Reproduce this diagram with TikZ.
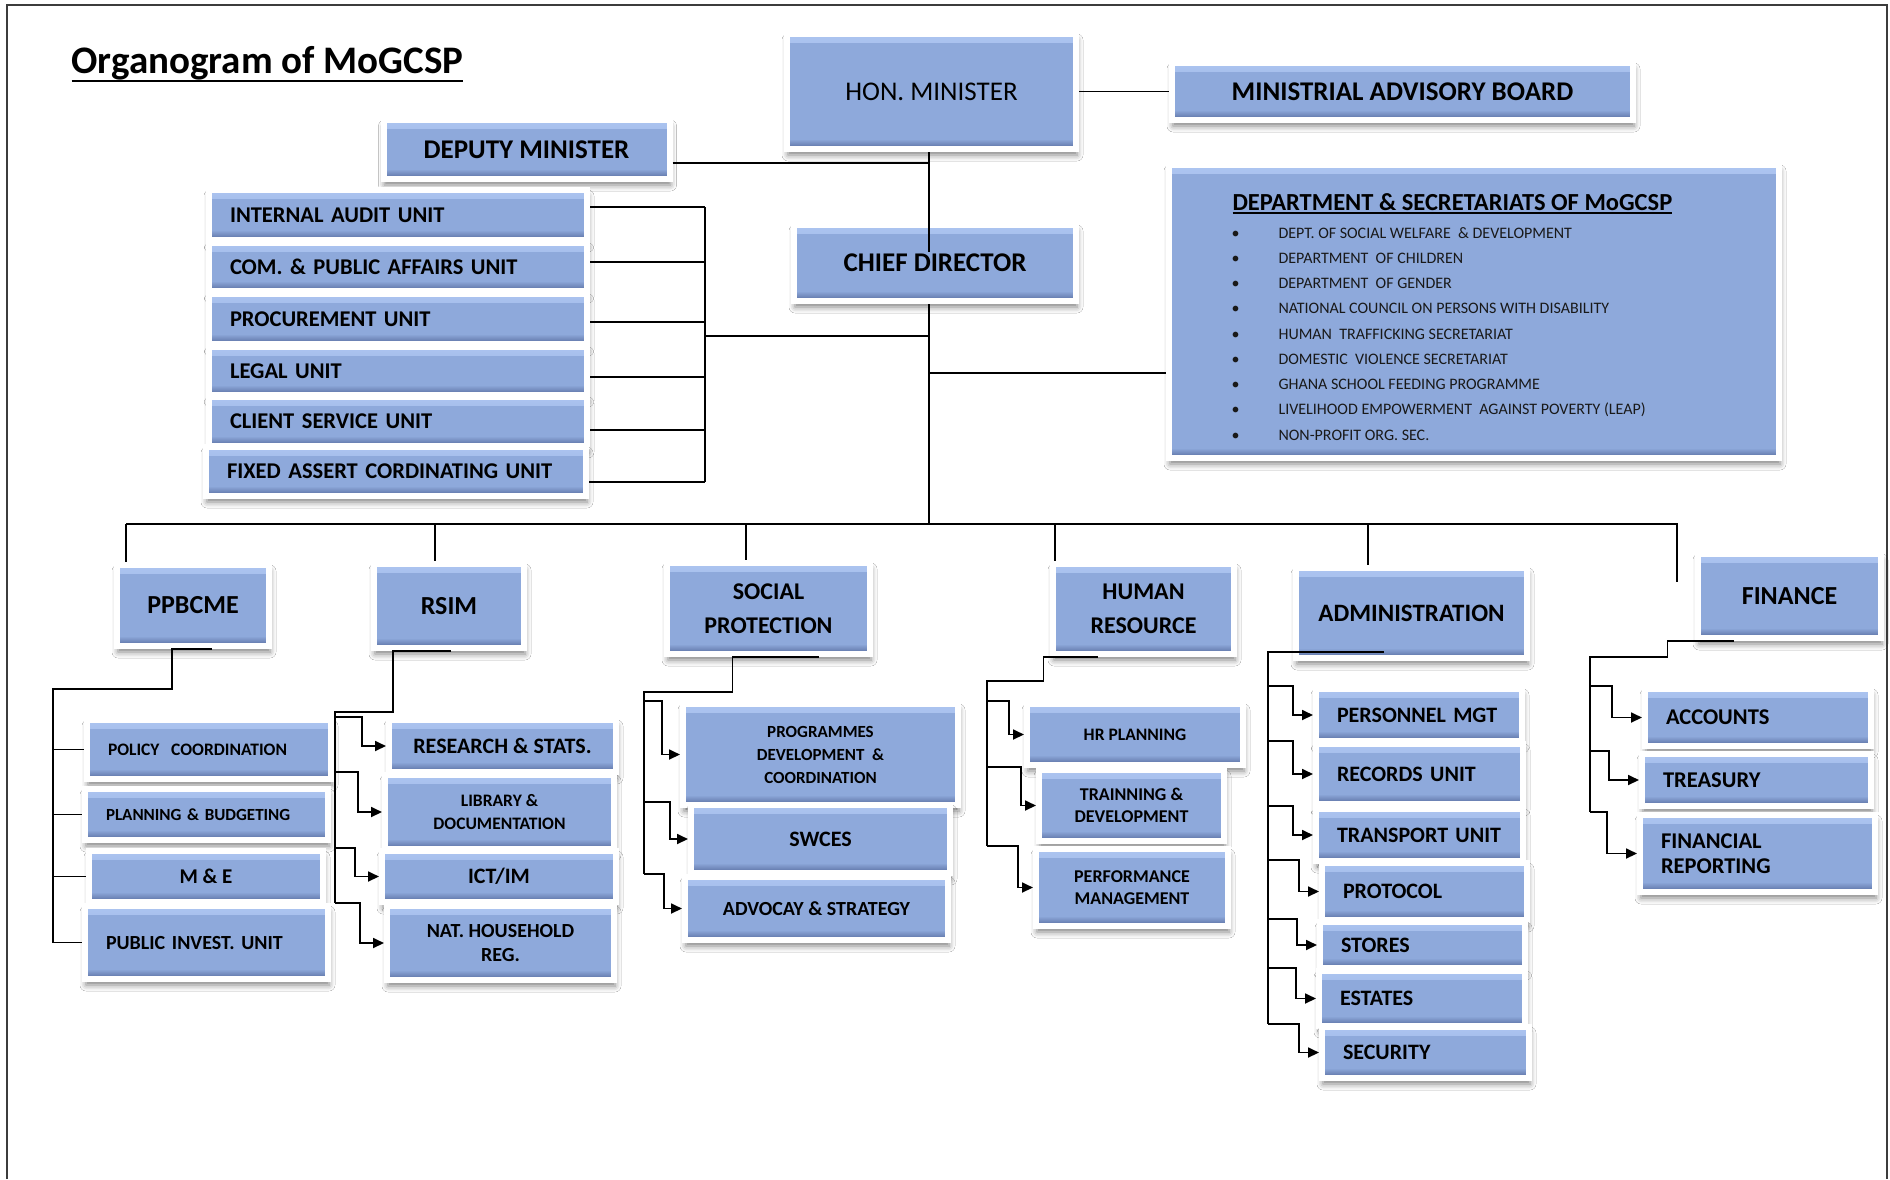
\documentclass[tikz,border=0pt]{standalone}
\usepackage{fontspec}
\setmainfont{Carlito}
\usepackage{tikz}
\usetikzlibrary{arrows.meta}
\usetikzlibrary{shadows.blur}
\definecolor{boxblue}{RGB}{142,169,219}
\definecolor{boxtop}{RGB}{172,196,240}
\definecolor{boxbot}{RGB}{86,106,156}
\definecolor{framegray}{RGB}{60,60,60}
\newcommand{\ulbox}[3]{\vtop{\hbox{#1}\kern#2\hrule height #3}}
\tikzstyle{box}=[rectangle,draw=white,line width=6pt,fill=boxblue,inner sep=0pt,text=black,align=center,
  blur shadow={shadow xshift=1pt,shadow yshift=-6pt,shadow blur radius=6pt,shadow opacity=50},
  path picture={
    \shade[top color=boxtop,bottom color=boxblue] (path picture bounding box.north west) rectangle ([yshift=-8pt]path picture bounding box.north east);
    \shade[top color=boxblue,bottom color=boxbot] ([yshift=10pt]path picture bounding box.south west) rectangle (path picture bounding box.south east);
  }]
\tikzstyle{lbox}=[box,align=left,inner xsep=21pt]
\tikzstyle{link}=[line width=1.8pt,black]
\tikzstyle{arr}=[link,-{Triangle[length=11pt,width=10pt]}]
\tikzset{fnt/.style 2 args={font=\fontsize{#1}{#2}\selectfont\bfseries},
  fntr/.style 2 args={font=\fontsize{#1}{#2}\selectfont}}

\begin{document}
\begin{tikzpicture}[x=1pt,y=-1pt]

\fill[white] (0,0) rectangle (1890,1179);
\useasboundingbox (0,0) rectangle (1890,1179);
\draw[framegray,line width=2.5pt] (7,1179) -- (7,5) -- (1887,5) -- (1887,1179);

\node[anchor=base west,fnt={39}{45}] (title) at (68,73) {\ulbox{Organogram of MoGCSP}{0pt}{2.5pt}};

% top of the chart
\node[box,fntr={27}{32},minimum width=289pt,minimum height=115pt] (hon) at (931.5,91.5) {HON. MINISTER};
\node[box,fnt={27}{32},minimum width=461pt,minimum height=57pt] (mab) at (1402.5,91.5) {MINISTRIAL ADVISORY BOARD};
\node[box,fnt={27}{32},minimum width=286pt,minimum height=59pt] (dep) at (526.5,149.5) {DEPUTY MINISTER};
\node[box,fnt={27}{32},minimum width=282pt,minimum height=76pt] (chief) at (935,263) {CHIEF DIRECTOR};

\node[box,minimum width=610pt,minimum height=293pt] (dept) at (1474,311.5) {};
\node[anchor=base west,fnt={24.5}{28}] (depttitle) at (1229,210) {\ulbox{DEPARTMENT \& SECRETARIATS OF MoGCSP}{1.5pt}{2pt}};
\foreach \i/\t in {1/DEPT. OF SOCIAL WELFARE \ \& DEVELOPMENT,2/DEPARTMENT \ OF CHILDREN,3/DEPARTMENT \ OF GENDER,
    4/NATIONAL COUNCIL ON PERSONS WITH DISABILITY,5/HUMAN \ TRAFFICKING SECRETARIAT,6/DOMESTIC \ VIOLENCE SECRETARIAT,
    7/GHANA SCHOOL FEEDING PROGRAMME,8/LIVELIHOOD EMPOWERMENT \ AGAINST POVERTY (LEAP),9/NON-PROFIT ORG. SEC.}
  \node[anchor=base west,fntr={16}{19},text=black!90] (item\i) at (1228,{238+25.25*(\i-1)}) {\makebox[47pt][l]{\textbullet}\t};

% units under the deputy minister
\node[lbox,fnt={22.5}{26},text width=336pt,minimum height=50pt] (iau) at (398,215) {INTERNAL AUDIT UNIT};
\node[lbox,fnt={22.5}{26},text width=336pt,minimum height=48pt] (com) at (398,267) {COM. \& PUBLIC AFFAIRS UNIT};
\node[lbox,fnt={22.5}{26},text width=336pt,minimum height=50pt] (proc) at (398,319) {PROCUREMENT UNIT};
\node[lbox,fnt={22.5}{26},text width=336pt,minimum height=48pt] (legal) at (398,371) {LEGAL UNIT};
\node[lbox,fnt={22.5}{26},text width=336pt,minimum height=49pt] (client) at (398,421.5) {CLIENT SERVICE UNIT};
\node[lbox,fnt={22.5}{26},text width=338pt,minimum height=49pt] (fixed) at (396,471.5) {FIXED ASSERT CORDINATING UNIT};

% directorates
\node[box,fnt={26}{30},minimum width=152pt,minimum height=81pt] (ppb) at (193,605.5) {PPBCME};
\node[box,fnt={26}{30},minimum width=150pt,minimum height=84pt] (rsim) at (449,606) {RSIM};
\node[box,fnt={24}{34},minimum width=203pt,minimum height=91pt] (soc) at (768.5,608.5) {SOCIAL\\PROTECTION};
\node[box,fnt={24}{34},minimum width=181pt,minimum height=90pt] (hum) at (1143.5,609) {HUMAN\\RESOURCE};
\node[box,fnt={25}{30},minimum width=231pt,minimum height=90pt] (adm) at (1411.5,613) {ADMINISTRATION};
\node[box,fnt={26}{30},minimum width=183pt,minimum height=84pt] (fin) at (1789.5,596) {FINANCE};

% PPBCME
\node[lbox,fnt={17.5}{21},text width=202pt,minimum height=59pt] (pol) at (209,749.5) {POLICY \ COORDINATION};
\node[lbox,fnt={17}{21},text width=201pt,minimum height=51pt] (plan) at (206.5,814.5) {PLANNING \& BUDGETING};
\node[box,fnt={21}{25},minimum width=234pt,minimum height=51pt] (me) at (206,876.5) {M \& E};
\node[lbox,fnt={20}{24},text width=201pt,minimum height=73pt] (pub) at (206.5,942.5) {PUBLIC INVEST. UNIT};

% RSIM
\node[box,fnt={22}{26},minimum width=227pt,minimum height=52pt] (rs) at (502.5,746) {RESEARCH \& STATS.};
\node[box,fnt={17.5}{23},minimum width=229pt,minimum height=74pt] (lib) at (499.5,812) {LIBRARY \&\\DOCUMENTATION};
\node[box,fnt={22}{26},minimum width=234pt,minimum height=51pt] (ict) at (499,876.5) {ICT/IM};
\node[box,fnt={20}{24},minimum width=227pt,minimum height=74pt] (nhr) at (500.5,943) {NAT. HOUSEHOLD\\REG.};

% social protection
\node[box,fnt={17}{23},minimum width=275pt,minimum height=101pt] (prog) at (820.5,754.5) {PROGRAMMES\\DEVELOPMENT \ \&\\COORDINATION};
\node[box,fnt={22}{26},minimum width=259pt,minimum height=68pt] (swc) at (820.5,839) {SWCES};
\node[box,fnt={20}{24},minimum width=263pt,minimum height=63pt] (adv) at (816.5,908.5) {ADVOCAY \& STRATEGY};

% human resource
\node[box,fnt={17.5}{22},minimum width=216pt,minimum height=61pt] (hrp) at (1135,734.5) {HR PLANNING};
\node[box,fnt={18}{22},minimum width=185pt,minimum height=71pt] (trn) at (1131.5,805.5) {TRAINNING \&\\DEVELOPMENT};
\node[box,fnt={18}{22},minimum width=192pt,minimum height=77pt] (perf) at (1132,887.5) {PERFORMANCE\\MANAGEMENT};

% administration
\node[lbox,fnt={22}{26},text width=164pt,minimum height=52pt] (pers) at (1419,715) {PERSONNEL MGT};
\node[lbox,fnt={22}{26},text width=165pt,minimum height=60pt] (rec) at (1419.5,774) {RECORDS UNIT};
\node[lbox,fnt={22}{26},text width=165pt,minimum height=52pt] (trans) at (1419.5,835) {TRANSPORT UNIT};
\node[lbox,fnt={22}{26},text width=163pt,minimum height=57pt] (prot) at (1424.5,891.5) {PROTOCOL};
\node[lbox,fnt={22}{26},text width=163pt,minimum height=46pt] (sto) at (1422.5,945) {STORES};
\node[lbox,fnt={22}{26},text width=164pt,minimum height=55pt] (est) at (1422,998.5) {ESTATES};
\node[lbox,fnt={22}{26},text width=165pt,minimum height=51pt] (sec) at (1425.5,1052.5) {SECURITY};

% finance
\node[lbox,fnt={22.5}{25},text width=184pt,minimum height=57pt] (acc) at (1758,717.5) {ACCOUNTS};
\node[lbox,fnt={22.5}{25},text width=187pt,minimum height=52pt] (tre) at (1756.5,780) {TREASURY};
\node[lbox,fnt={22.5}{25},text width=193pt,minimum height=77pt] (frep) at (1757.5,853.5) {FINANCIAL\\REPORTING};

% connectors at the top
\coordinate (spine) at (929,524);
\coordinate (depj) at (929,163);
\coordinate (unitj) at (705,336);
\coordinate (deptj) at (929,373);
\draw[link] (hon.east) -- (mab.west);
\draw[link] (hon.south -| spine) -- (chief.north -| spine) -- ++(0,30);
\draw[link] (dep.east |- depj) -- (depj);
\draw[link] (chief.south -| spine) -- (spine);
\draw[link] (unitj) -- (unitj -| spine);
\draw[link] (deptj) -- (deptj -| dept.west);

\foreach \u/\dy in {iau/8,com/5,proc/-3,legal/-6,client/-8.5,fixed/-10.5}
  \draw[link] ([yshift=\dy pt]\u.east) -- ([yshift=\dy pt]\u.east -| unitj);
\draw[link] ([yshift=8pt]iau.east -| unitj) -- ([yshift=-10.5pt]fixed.east -| unitj);

% the bus
\coordinate (busl) at (126,524);
\coordinate (busr) at (1677,524);
\coordinate (findrop) at (1677,582);
\draw[link] (busl) -- (busr) -- (findrop);
\foreach \x/\n in {126/ppb,435/rsim,746/soc,1055/hum,1368/adm}
  {\coordinate (drop) at (\x,524);
   \draw[link] (drop) -- (drop |- \n.north);}

% PPBCME branches
\coordinate (ppbsp) at (53,689);
\draw[link] ([xshift=19pt]ppb.south) -- ++(-40,0) |- (ppbsp) -- (ppbsp |- pub.west);
\foreach \c in {pol,plan,me,pub}
  \draw[link] (ppbsp |- \c.west) -- (\c.west);

% RSIM branches
\coordinate (rsimsp) at (335,712);
\draw[link] ([xshift=2pt]rsim.south) -- ++(-58,0) |- (rsimsp) -- (rsimsp |- nhr.north);
\foreach \c in {rs,lib,ict,nhr}
  \draw[arr] (rsimsp |- \c.north) -| ([xshift=-24pt]\c.west) -- (\c.west);

% social protection branches
\coordinate (socsp) at (644,692);
\draw[link] ([xshift=50pt]soc.south) -- ++(-86,0) |- (socsp) -- (socsp |- adv.north);
\foreach \c in {prog,swc,adv}
  \draw[arr] (socsp |- \c.north) -| ([xshift=-18pt]\c.west) -- (\c.west);

% human resource branches
\coordinate (humsp) at (987,681);
\draw[link] ([xshift=-46pt]hum.south) -- ++(-54,0) |- (humsp) -- (humsp |- perf.north);
\foreach \c in {hrp,trn,perf}
  \draw[arr] (humsp |- \c.north) -| ([xshift=-15pt]\c.west) -- (\c.west);

% administration branches
\coordinate (admsp) at (1268,652);
\draw[link] ([xshift=-28pt]adm.south |- admsp) -- (admsp) -- (admsp |- sec.north);
\foreach \c in {pers,rec,trans,prot,sto,est,sec}
  \draw[arr] (admsp |- \c.north) -| ([xshift=-20pt]\c.west) -- (\c.west);

% finance branches
\coordinate (finsp) at (1590,657);
\draw[link] ([xshift=-56pt]fin.south) -- ++(-66,0) |- (finsp) -- (finsp |- frep.north);
\foreach \c in {acc,tre,frep}
  \draw[arr] (finsp |- \c.north) -| ([xshift=-30pt]\c.west) -- (\c.west);

\end{tikzpicture}
\end{document}
